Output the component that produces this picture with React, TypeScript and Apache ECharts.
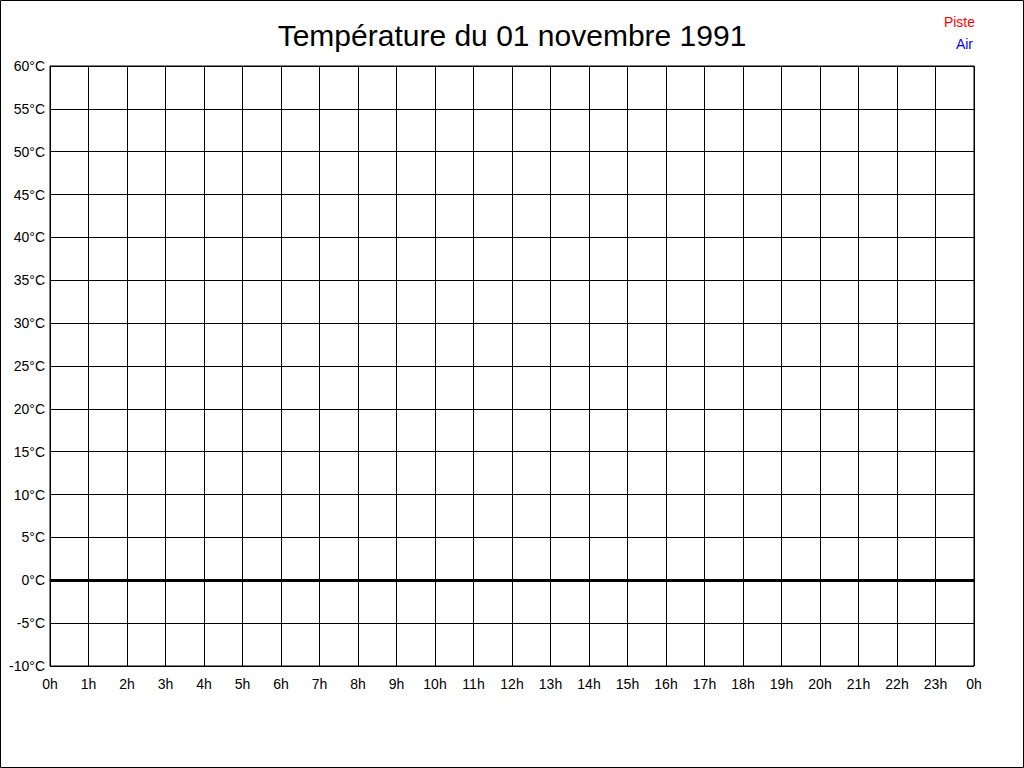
import React, { useEffect, useRef } from "react";
import * as echarts from "echarts";

// relevés du jour (aucune mesure enregistrée)
const pisteValues: [number, number][] = [];
const airValues: [number, number][] = [];

const hourLabels = [
  "0h", "1h", "2h", "3h", "4h", "5h", "6h", "7h", "8h", "9h", "10h", "11h",
  "12h", "13h", "14h", "15h", "16h", "17h", "18h", "19h", "20h", "21h", "22h",
  "23h", "0h",
];
const tempMin = -10;
const tempMax = 60;
const tempStep = 5;

const FONT = "'Liberation Sans', Arial, sans-serif";

const App = () => {
  const chartRef = useRef<HTMLDivElement | null>(null);

  useEffect(() => {
    const chart = echarts.init(chartRef.current as HTMLDivElement, undefined, {
      renderer: "svg",
    });
    chart.setOption({
      animation: false,
      backgroundColor: "#fff",
      textStyle: { fontFamily: FONT },
      title: {
        text: "Température du 01 novembre 1991",
        left: "center",
        top: 15,
        textStyle: { fontSize: 30, fontWeight: "normal", color: "#000", fontFamily: FONT },
      },
      // deux légendes séparées pour les aligner à droite
      legend: [
        {
          data: ["Piste"],
          right: 44,
          top: 10,
          itemWidth: 0,
          itemHeight: 0,
          selectedMode: false,
          textStyle: { color: "#ff0000", fontSize: 14, fontFamily: FONT },
        },
        {
          data: ["Air"],
          right: 46,
          top: 32,
          itemWidth: 0,
          itemHeight: 0,
          selectedMode: false,
          textStyle: { color: "#0000ff", fontSize: 14, fontFamily: FONT },
        },
      ],
      grid: {
        left: 50,
        right: 50,
        top: 66,
        bottom: 102,
        show: true,
        borderColor: "#000",
        borderWidth: 1,
      },
      xAxis: {
        type: "value",
        min: 0,
        max: hourLabels.length - 1,
        interval: 1,
        axisLine: { lineStyle: { color: "#000", width: 1 } },
        axisTick: { show: false },
        splitLine: { show: true, lineStyle: { color: "#000", width: 1 } },
        axisLabel: {
          color: "#000",
          fontSize: 14,
          margin: 11,
          fontFamily: FONT,
          formatter: (v: number) => hourLabels[v] ?? "",
        },
      },
      yAxis: {
        type: "value",
        min: tempMin,
        max: tempMax,
        interval: tempStep,
        axisLine: { show: true, lineStyle: { color: "#000", width: 1 } },
        axisTick: { show: false },
        splitLine: { show: true, lineStyle: { color: "#000", width: 1 } },
        axisLabel: {
          color: "#000",
          fontSize: 14,
          margin: 5,
          fontFamily: FONT,
          formatter: (v: number) => `${v}°C`,
        },
      },
      graphic: [
        {
          type: "rect",
          shape: { x: 0.5, y: 0.5, width: 1023, height: 767 },
          style: { fill: "none", stroke: "#000", lineWidth: 1 },
          silent: true,
        },
      ],
      series: [
        {
          name: "Piste",
          type: "line",
          data: pisteValues,
          color: "#ff0000",
          showSymbol: false,
          markLine: {
            silent: true,
            symbol: "none",
            label: { show: false },
            lineStyle: { color: "#000", width: 3, type: "solid" },
            data: [{ yAxis: 0 }],
          },
        },
        {
          name: "Air",
          type: "line",
          data: airValues,
          color: "#0000ff",
          showSymbol: false,
        },
      ],
    });
    return () => {
      chart.dispose();
    };
  }, []);

  return (
    <div
      ref={chartRef}
      style={{ position: "fixed", left: 0, top: 0, width: 1024, height: 768 }}
    ></div>
  );
};

export default App;
